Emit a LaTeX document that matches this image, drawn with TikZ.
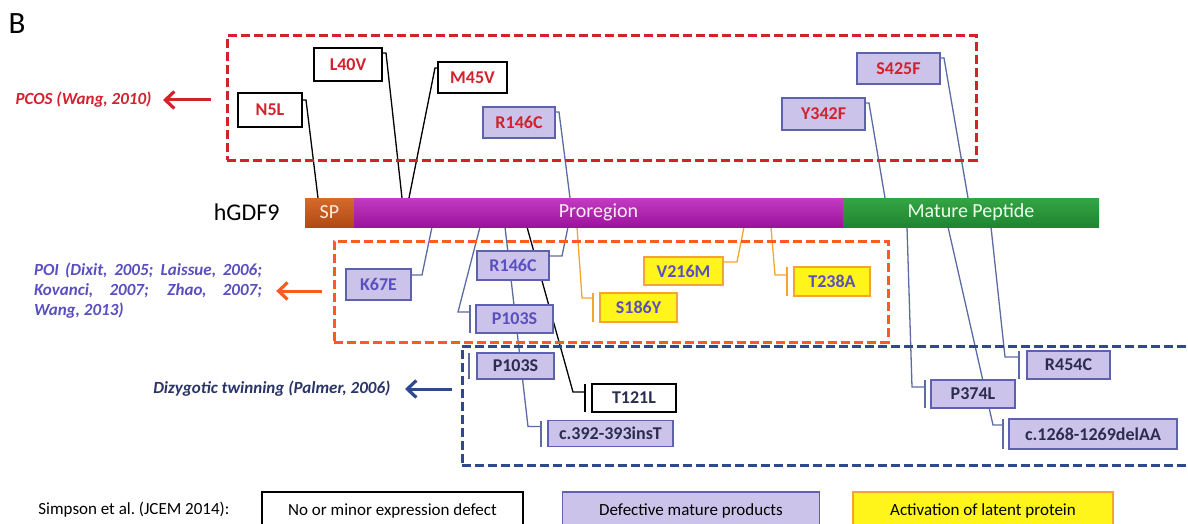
\documentclass[tikz,border=0pt]{standalone}
\usepackage{fontspec}
\setmainfont{Carlito}
\usetikzlibrary{arrows.meta,calc}
\usetikzlibrary{positioning}
\pgfdeclarelayer{background}
\pgfsetlayers{background,main}
\definecolor{pcosred}{HTML}{D3212D}
\definecolor{poiblue}{HTML}{5A4FBF}
\definecolor{twinnavy}{HTML}{2B3468}
\definecolor{labnavy}{HTML}{2C2D4E}
\definecolor{frorange}{HTML}{FF5A1F}
\definecolor{frblue}{HTML}{2F4A8C}
\definecolor{lavfill}{HTML}{CBC3E9}
\definecolor{lavline}{HTML}{5E62AE}
\definecolor{yelfill}{HTML}{FFF51A}
\definecolor{yelline}{HTML}{F4A531}
\definecolor{lnslate}{HTML}{5C6BA3}
\definecolor{sptop}{HTML}{D46A2C}
\definecolor{spbot}{HTML}{B04A14}
\definecolor{protop}{HTML}{C23BC2}
\definecolor{probot}{HTML}{9C129C}
\definecolor{mattop}{HTML}{34A544}
\definecolor{matbot}{HTML}{1E8530}
\newcommand{\mutfont}{\fontsize{18}{21}\selectfont\bfseries}
\newcommand{\phenfont}{\fontsize{17}{20}\selectfont\bfseries\itshape}
\newcommand{\legfont}{\fontsize{17}{20}\selectfont}
\tikzstyle{mut} = [draw, line width=1.5pt, shape=rectangle, inner sep=0pt, outer sep=0pt, font=\mutfont]
\tikzstyle{mutw} = [mut, fill=white, draw=black]
\tikzstyle{mutl} = [mut, fill=lavfill, draw=lavline]
\tikzstyle{muty} = [mut, fill=yelfill, draw=yelline]
\tikzstyle{bar} = [shape=rectangle, inner sep=0pt, outer sep=0pt, minimum height=29pt, font=\fontsize{20}{22}\selectfont]
\tikzstyle{grpbox} = [line width=3pt, dash pattern=on 9pt off 4pt]
\tikzstyle{lnblack} = [style={black,line width=1.3pt}]
\tikzstyle{lnlav} = [style={lnslate,line width=1.3pt}]
\tikzstyle{lnyel} = [style={yelline,line width=1.3pt}]
\tikzstyle{arpcos} = [style={->,>={Straight Barb[length=9pt,width=17pt,line width=3.2pt]},line width=3pt,pcosred}]
\tikzstyle{arpoi} = [style={->,>={Straight Barb[length=9pt,width=17pt,line width=3.2pt]},line width=3pt,frorange}]
\tikzstyle{artwin} = [style={->,>={Straight Barb[length=9pt,width=17pt,line width=3.2pt]},line width=3pt,frblue}]
\begin{document}
\begin{tikzpicture}[x=1pt,y=-1pt]
	\useasboundingbox (0,0) rectangle (1188,524);
	\clip (0,0) rectangle (1188,524);
	\node[font=\fontsize{31}{33}\selectfont] (lblB) at (17,24) {B};
	% protein bar
	\node[bar, minimum width=49pt, top color=sptop, bottom color=spbot, text=orange!15!white] (sp) at (329.5,212.5) {SP};
	\node[bar, minimum width=489pt, right=0pt of sp, top color=protop, bottom color=probot, text=magenta!8!white] (pro) {Proregion};
	\node[bar, minimum width=256pt, right=0pt of pro, top color=mattop, bottom color=matbot, text=green!8!white] (mat) {Mature Peptide};
	\node[font=\fontsize{24}{26}\selectfont, left=22pt of sp] (gdf) {hGDF9};
	\coordinate (tN5L) at (318,198);
	\coordinate (tL40V) at (402,198);
	\coordinate (tM45V) at (409,198);
	\coordinate (tR146C) at (570,198);
	\coordinate (tY342F) at (885,198);
	\coordinate (tS425F) at (968,198);
	\coordinate (bK67E) at (432,227);
	\coordinate (bP103S) at (480,227);
	\coordinate (bC392) at (505,227);
	\coordinate (bT121L) at (527,227);
	\coordinate (bR146C) at (568,227);
	\coordinate (bS186Y) at (577,227);
	\coordinate (bV216M) at (744,227);
	\coordinate (bT238A) at (771,227);
	\coordinate (bP374L) at (907,227);
	\coordinate (bC1268) at (948,227);
	\coordinate (bR454C) at (991,227);
	% PCOS
	\node[mutw, text=pcosred, minimum width=64pt, minimum height=34pt] (n5l) at (270,110) {N5L};
	\node[mutw, text=pcosred, minimum width=68pt, minimum height=33pt] (l40v) at (348,64.5) {L40V};
	\node[mutw, text=pcosred, minimum width=69pt, minimum height=31pt] (m45v) at (472.5,77.5) {M45V};
	\node[mutl, text=pcosred, minimum width=72pt, minimum height=31pt] (r146ct) at (519,122.5) {R146C};
	\node[mutl, text=pcosred, minimum width=83pt, minimum height=32pt] (y342f) at (823.5,114) {Y342F};
	\node[mutl, text=pcosred, minimum width=83pt, minimum height=31pt] (s425f) at (898.5,68.5) {S425F};
	% POI
	\node[mutl, text=poiblue, minimum width=65pt, minimum height=31pt] (k67e) at (378.5,284.5) {K67E};
	\node[mutl, text=poiblue, minimum width=72pt, minimum height=29pt] (r146cm) at (513,265.5) {R146C};
	\node[mutl, text=poiblue, minimum width=77pt, minimum height=28pt] (p103sm) at (514.5,319) {P103S};
	\node[muty, text=poiblue, minimum width=77pt, minimum height=29pt] (s186y) at (638.5,307.5) {S186Y};
	\node[muty, text=poiblue, minimum width=79pt, minimum height=28pt] (v216m) at (683.5,271) {V216M};
	\node[muty, text=poiblue, minimum width=76pt, minimum height=29pt] (t238a) at (832,281.5) {T238A};
	% twinning
	\node[mutl, text=labnavy, minimum width=77pt, minimum height=26pt] (p103sl) at (515.5,366) {P103S};
	\node[mutw, text=labnavy, minimum width=84pt, minimum height=28pt] (t121l) at (634,398) {T121L};
	\node[mutl, text=labnavy, minimum width=125pt, minimum height=26pt] (c392) at (610.5,433.5) {c.392-393insT};
	\node[mutl, text=labnavy, minimum width=84pt, minimum height=28pt] (p374l) at (973,394) {P374L};
	\node[mutl, text=labnavy, minimum width=83pt, minimum height=28pt] (r454c) at (1068.5,365) {R454C};
	\node[mutl, text=labnavy, minimum width=168pt, minimum height=30pt] (c1268) at (1093,434) {c.1268-1269delAA};
	% phenotypes
	\node[font=\phenfont, text=pcosred, anchor=east] (pcos) at (155,100) {PCOS (Wang, 2010)};
	\node[font=\phenfont, text=poiblue, text width=228pt, align=justify, inner sep=0pt] (poi) at (148,291) {\baselineskip=22pt POI (Dixit, 2005; Laissue, 2006;\linebreak Kovanci, 2007; Zhao, 2007;\linebreak Wang, 2013)};
	\node[font=\phenfont, text=twinnavy, anchor=east] (twin) at (394,389) {Dizygotic twinning (Palmer, 2006)};
	\node[draw=pcosred, grpbox, minimum width=749pt, minimum height=124pt, inner sep=0pt] (frpcos) at (601.5,98) {};
	\node[draw=frorange, grpbox, minimum width=554pt, minimum height=101pt, inner sep=0pt] (frpoi) at (611,291.5) {};
	\node[draw=frblue, grpbox, minimum width=738pt, minimum height=119pt, inner sep=0pt] (frtwin) at (831,405.5) {};
	\draw[arpcos] ($(frpcos.west |- pcos.east)+(-15,0)$) -- ($(pcos.east)+(8,0)$);
	\draw[arpoi] ($(frpoi.west |- poi.east)+(-11,0)$) -- ($(poi.east)+(14,0)$);
	\draw[artwin] ($(frtwin.west |- twin.east)+(-9,0)$) -- ($(twin.east)+(11,0)$);
	\begin{pgfonlayer}{background}
		\draw[lnblack] ([yshift=-7pt]n5l.north east) -- ++(4,0) -- (tN5L);
		\draw[lnblack] ([yshift=-5pt]l40v.north east) -- ++(4,0) -- (tL40V);
		\draw[lnblack] ([yshift=-6pt]m45v.north west) -- ++(-3,0) -- (tM45V);
		\draw[lnlav] ([yshift=-5pt]r146ct.north east) -- ++(4,0) -- (tR146C);
		\draw[lnlav] ([yshift=-5pt]y342f.north east) -- ++(4,0) -- (tY342F);
		\draw[lnlav] ([yshift=-5pt]s425f.north east) -- ++(4,0) -- (tS425F);
		\draw[lnlav] ([yshift=-6pt]k67e.north east) -- ++(11,0) -- (bK67E);
		\draw[lnlav] ([yshift=-5pt]r146cm.north east) -- ++(13,0) -- (bR146C);
		\draw[lnyel] ([yshift=-5pt]v216m.north east) -- ++(14,0) -- (bV216M);
		\draw[lnlav] ([xshift=-6pt]p103sm.north west) -- ([xshift=-6pt]p103sm.south west);
		\draw[lnlav] ([xshift=-6pt,yshift=-7pt]p103sm.north west) -- ++(-12,0) -- (bP103S);
		\draw[lnyel] ([xshift=-7pt]s186y.north west) -- ([xshift=-7pt]s186y.south west);
		\draw[lnyel] ([xshift=-7pt,yshift=-5pt]s186y.north west) -- ++(-11,0) -- (bS186Y);
		\draw[lnyel] ([xshift=-7pt]t238a.north west) -- ([xshift=-7pt]t238a.south west);
		\draw[lnyel] ([xshift=-7pt,yshift=-8pt]t238a.north west) -- ++(-12,0) -- (bT238A);
		\draw[lnlav] ([xshift=-8pt]p103sl.north west) -- ([xshift=-8pt]p103sl.south west);
		\draw[lnblack] ([xshift=-7pt]t121l.north west) -- ([xshift=-7pt]t121l.south west);
		\draw[lnblack] ([xshift=-7pt,yshift=-8pt]t121l.north west) -- ++(-12,0) -- (bT121L);
		\draw[lnlav] ([xshift=-7pt]c392.north west) -- ([xshift=-7pt]c392.south west);
		\draw[lnlav] ([xshift=-7pt,yshift=-6pt]c392.north west) -- ++(-13,0) -- (bC392);
		\draw[lnlav] ([xshift=-6pt]p374l.north west) -- ([xshift=-6pt]p374l.south west);
		\draw[lnlav] ([xshift=-6pt,yshift=-7pt]p374l.north west) -- ++(-13,0) -- (bP374L);
		\draw[lnlav] ([xshift=-8pt]r454c.north west) -- ([xshift=-8pt]r454c.south west);
		\draw[lnlav] ([xshift=-8pt,yshift=-6pt]r454c.north west) -- ++(-14,0) -- (bR454C);
		\draw[lnlav] ([xshift=-6pt]c1268.north west) -- ([xshift=-6pt]c1268.south west);
		\draw[lnlav] ([xshift=-6pt,yshift=-6pt]c1268.north west) -- ++(-10,0) -- (bC1268);
	\end{pgfonlayer}
	% legend
	\node[font=\legfont, anchor=east] (simp) at (233,510) {Simpson et al.\ (JCEM 2014):};
	\node[draw=black, line width=1.5pt, fill=white, font=\legfont, minimum width=261pt, minimum height=38pt, inner sep=0pt] (lgw) at (392.5,511) {No or minor expression defect};
	\node[draw=lavline, line width=1.5pt, fill=lavfill, font=\legfont, minimum width=257pt, minimum height=38pt, inner sep=0pt, right=38pt of lgw] (lgl) {Defective mature products};
	\node[draw=yelline, line width=1.5pt, fill=yelfill, font=\legfont, minimum width=260pt, minimum height=38pt, inner sep=0pt, right=32pt of lgl] (lgy) {Activation of latent protein};
\end{tikzpicture}
\end{document}
